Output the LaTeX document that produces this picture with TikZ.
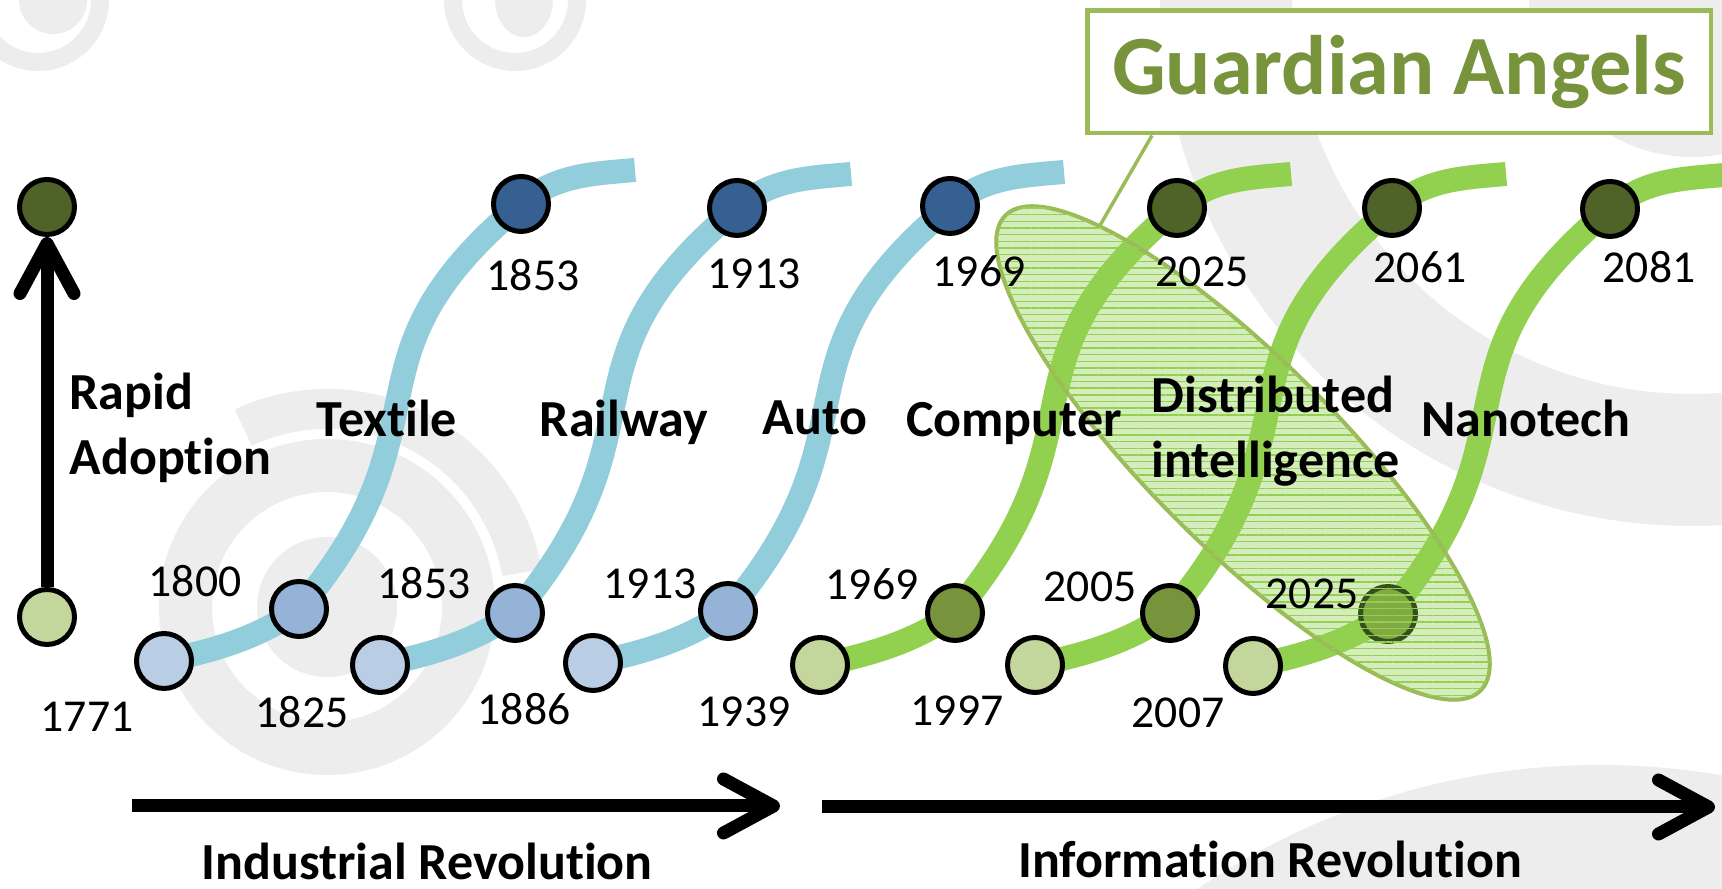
\documentclass[tikz,border=0pt]{standalone}
\usepackage{fontspec}
\setmainfont{Carlito}[Ligatures={NoCommon, NoContextual}]
\usetikzlibrary{arrows.meta, shapes.geometric, patterns.meta, backgrounds, calc}
\definecolor{indpale}{HTML}{B9CDE5}
\definecolor{indsoft}{HTML}{95B3D7}
\definecolor{inddeep}{HTML}{366092}
\definecolor{indwavec}{HTML}{92CDDC}
\definecolor{infpale}{HTML}{C3D69B}
\definecolor{infsoft}{HTML}{77933C}
\definecolor{infdeep}{HTML}{4F6228}
\definecolor{infwavec}{HTML}{92D050}
\definecolor{edgegreen}{HTML}{9BBB59}
\definecolor{wmgray}{RGB}{237,237,237}
\begin{document}
\begin{tikzpicture}[x=0.1mm, y=0.1mm,
    yeardot/.style = {circle, draw=black, line width=0.5mm, minimum size=5.5mm, inner sep=0pt},
    indlow/.style = {yeardot, fill=indpale},
    indmid/.style = {yeardot, fill=indsoft},
    indtop/.style = {yeardot, fill=inddeep},
    inflow/.style = {yeardot, fill=infpale},
    infmid/.style = {yeardot, fill=infsoft},
    inftop/.style = {yeardot, fill=infdeep},
    indwave/.style = {draw=indwavec, line width=2.4mm},
    infwave/.style = {draw=infwavec, line width=2.4mm},
    year/.style = {font=\fontsize{13}{15}\selectfont, inner sep=0pt, anchor=base},
    tech/.style = {font=\fontsize{14.8}{18}\selectfont\bfseries, inner sep=0pt, anchor=base},
    bigarrow/.style = {line width=1.3mm, -{Straight Barb[length=5mm, width=5.4mm, round]}},
    angelzone/.style = {ellipse, draw=edgegreen, line width=0.4mm, minimum width=67.2mm,
        minimum height=18.8mm, inner sep=0pt, rotate=-45, fill=infwavec, fill opacity=0.38,
        postaction={pattern={Lines[angle=0, distance=1.9pt, line width=0.4pt]},
        pattern color=infwavec, fill opacity=0.4}},
    wm/.style = {fill=wmgray, draw=none}]

    \useasboundingbox (0,0) rectangle (1722,889);
    \clip (0,0) rectangle (1722,889);

    \begin{scope}[on background layer]
        \fill[white] (0,0) rectangle (1722,889);
        \fill[wm, even odd rule] (38,889) circle (71) (38,889) circle (53);
        \fill[wm] (53,889) ellipse [x radius=34, y radius=34];
        \fill[wm, even odd rule] (515,889) circle (71) (515,889) circle (53);
        \fill[wm] (524,889) ellipse [x radius=29, y radius=37];
        \fill[wm, even odd rule] (327,282) circle (168) (327,282) circle (115);
        \fill[wm] (327,282) circle (70);
        \fill[wm] (327,282) ++(115:218) arc[start angle=115, end angle=10, radius=218]
            -- ++(10:-40) arc[start angle=10, end angle=115, radius=178] -- cycle;
        \fill[wm, even odd rule] (1692,895) circle (532) (1692,895) circle (400);
        \fill[wm] (1692,895) circle (163);
        \fill[wm] (1600,-591) circle (715);
    \end{scope}

    \node[inftop] (rt) at (47,682) {};
    \node[inflow] (rb) at (47,272) {};

    \node[indlow] (l1) at (164,228) {};
    \node[indmid] (m1) at (299,280) {};
    \node[indtop] (t1) at (521,685) {};
    \coordinate (e1) at (635,719);

    \node[indlow] (l2) at (380,224) {};
    \node[indmid] (m2) at (515,276) {};
    \node[indtop] (t2) at (737,681) {};
    \coordinate (e2) at (851,715);

    \node[indlow] (l3) at (593,226) {};
    \node[indmid] (m3) at (728,278) {};
    \node[indtop] (t3) at (950,683) {};
    \coordinate (e3) at (1064,717);

    \node[inflow] (l4) at (820,224) {};
    \node[infmid] (m4) at (955,276) {};
    \node[inftop] (t4) at (1177,681) {};
    \coordinate (e4) at (1291,715);

    \node[inflow] (l5) at (1035,224) {};
    \node[infmid] (m5) at (1170,276) {};
    \node[inftop] (t5) at (1392,681) {};
    \coordinate (e5) at (1506,715);

    \node[inflow] (l6) at (1253,223) {};
    \node[infmid] (m6) at (1388,275) {};
    \node[inftop] (t6) at (1610,680) {};
    \coordinate (e6) at (1724,714);

    \begin{scope}[on background layer]
        \draw[indwave] (l1.center) .. controls +(12:55) and +(215:50) .. (m1.center)
            .. controls +(50:245) and +(220:245) .. (t1.center) .. controls +(40:45) and +(185:45) .. (e1);
        \draw[indwave] (l2.center) .. controls +(12:55) and +(215:50) .. (m2.center)
            .. controls +(50:245) and +(220:245) .. (t2.center) .. controls +(40:45) and +(185:45) .. (e2);
        \draw[indwave] (l3.center) .. controls +(12:55) and +(215:50) .. (m3.center)
            .. controls +(50:245) and +(220:245) .. (t3.center) .. controls +(40:45) and +(185:45) .. (e3);
        \draw[infwave] (l4.center) .. controls +(12:55) and +(215:50) .. (m4.center)
            .. controls +(50:245) and +(220:245) .. (t4.center) .. controls +(40:45) and +(185:45) .. (e4);
        \draw[infwave] (l5.center) .. controls +(12:55) and +(215:50) .. (m5.center)
            .. controls +(50:245) and +(220:245) .. (t5.center) .. controls +(40:45) and +(185:45) .. (e5);
        \draw[infwave] (l6.center) .. controls +(12:55) and +(215:50) .. (m6.center)
            .. controls +(50:245) and +(220:245) .. (t6.center) .. controls +(40:45) and +(185:45) .. (e6);
    \end{scope}

    \draw[bigarrow] (rb) -- (rt);
    \coordinate (inda) at (132,83);
    \coordinate (indb) at (780,83);
    \coordinate (infa) at (822,82);
    \coordinate (infb) at (1715,82);
    \draw[bigarrow] (inda) -- (indb);
    \draw[bigarrow] (infa) -- (infb);

    \node[angelzone] (angels) at (1243,436) {};

    \node[year] (yl1) at (87,157) {1771};
    \node[year] (ym1) at (195,292) {1800};
    \node[year] (yt1) at (533,598) {1853};
    \node[year] (yl2) at (302,161) {1825};
    \node[year] (ym2) at (424,290) {1853};
    \node[year] (yt2) at (754,600) {1913};
    \node[year] (yl3) at (524,164) {1886};
    \node[year] (ym3) at (650,290) {1913};
    \node[year] (yt3) at (979,602) {1969};
    \node[year] (yl4) at (744,162) {1939};
    \node[year] (ym4) at (872,289) {1969};
    \node[year] (yt4) at (1202,602) {2025};
    \node[year] (yl5) at (957,163) {1997};
    \node[year] (ym5) at (1090,287) {2005};
    \node[year] (yt5) at (1420,606) {2061};
    \node[year] (yl6) at (1178,161) {2007};
    \node[year] (ym6) at (1312,280) {2025};
    \node[year] (yt6) at (1649,606) {2081};

    \node[tech, anchor=base west] (rapid) at (69,479) {Rapid};
    \node[tech, anchor=base west] (adoption) at (69,414) {Adoption};
    \node[tech] (textile) at (387,452) {Textile};
    \node[tech] (railway) at (624,452) {Railway};
    \node[tech] (auto) at (815,454) {Auto};
    \node[tech] (computer) at (1014,452) {Computer};
    \node[tech, anchor=base west] (distributed) at (1151,476) {Distributed};
    \node[tech, anchor=base west] (intelligence) at (1151,411) {intelligence};
    \node[tech] (nanotech) at (1526,452) {Nanotech};
    \node[tech] (industrial) at (427,9) {Industrial Revolution};
    \node[tech] (information) at (1270,11) {Information Revolution};

    \node[draw=edgegreen, line width=0.45mm, fill=white, minimum width=62.35mm, minimum height=12.25mm,
        inner sep=0pt, text=infsoft, font=\fontsize{24}{29}\selectfont\bfseries] (ga) at (1399,817) {Guardian Angels};
    \draw[edgegreen, line width=0.35mm] ($(ga.south)+(-247,0)$) -- (angels.167);
\end{tikzpicture}
\end{document}
